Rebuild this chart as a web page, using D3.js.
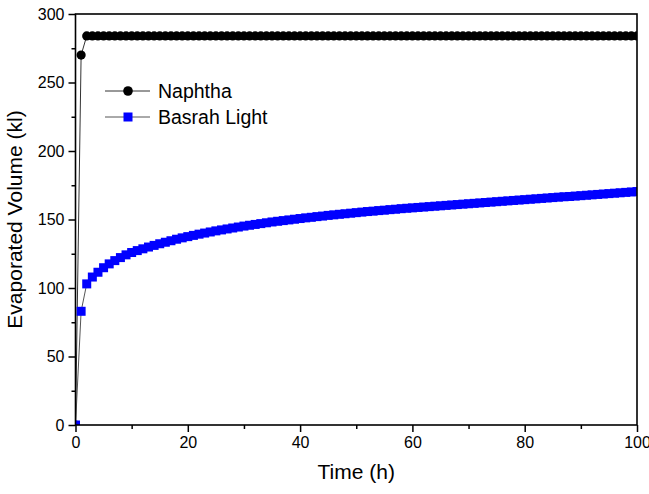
<!DOCTYPE html>
<html>
<head>
<meta charset="utf-8">
<script src="https://cdn.jsdelivr.net/npm/d3@7"></script>
<style>
  body { margin: 0; background: #fff; }
  svg { display: block; font-family: Arial, "Liberation Sans", sans-serif; }
</style>
</head>
<body>
<div id="vis-container"></div>
<script>
const width = 649;
const height = 494;
const margin = { top: 14, right: 12, bottom: 69, left: 75.5 };

// Data
const time = [0, 1, 2, 3, 4, 5, 6, 7, 8, 9, 10, 11, 12, 13, 14, 15, 16, 17, 18, 19, 20,
  21, 22, 23, 24, 25, 26, 27, 28, 29, 30, 31, 32, 33, 34, 35, 36, 37, 38, 39, 40,
  41, 42, 43, 44, 45, 46, 47, 48, 49, 50, 51, 52, 53, 54, 55, 56, 57, 58, 59, 60,
  61, 62, 63, 64, 65, 66, 67, 68, 69, 70, 71, 72, 73, 74, 75, 76, 77, 78, 79, 80,
  81, 82, 83, 84, 85, 86, 87, 88, 89, 90, 91, 92, 93, 94, 95, 96, 97, 98, 99, 100];

const naphtha = [0, 270, 284, 284, 284, 284, 284, 284, 284, 284, 284,
  284, 284, 284, 284, 284, 284, 284, 284, 284, 284,
  284, 284, 284, 284, 284, 284, 284, 284, 284, 284,
  284, 284, 284, 284, 284, 284, 284, 284, 284, 284,
  284, 284, 284, 284, 284, 284, 284, 284, 284, 284,
  284, 284, 284, 284, 284, 284, 284, 284, 284, 284,
  284, 284, 284, 284, 284, 284, 284, 284, 284, 284,
  284, 284, 284, 284, 284, 284, 284, 284, 284, 284,
  284, 284, 284, 284, 284, 284, 284, 284, 284, 284,
  284, 284, 284, 284, 284, 284, 284, 284, 284, 284];

const basrah = [0, 83, 103, 108, 111.5, 114.8, 117.6, 120, 122.2, 124.2, 125.9,
  127.3, 128.6, 129.9, 131.1, 132.3, 133.4, 134.5, 135.6, 136.6, 137.5,
  138.4, 139.3, 140.1, 140.9, 141.7, 142.4, 143.1, 143.8, 144.5, 145.2,
  145.8, 146.4, 147, 147.6, 148.2, 148.7, 149.2, 149.7, 150.2, 150.7,
  151.2, 151.6, 152.1, 152.5, 153, 153.4, 153.8, 154.2, 154.6, 155,
  155.4, 155.8, 156.1, 156.5, 156.8, 157.2, 157.5, 157.9, 158.2, 158.5,
  158.8, 159.1, 159.4, 159.7, 160, 160.3, 160.6, 160.9, 161.2, 161.5,
  161.8, 162.1, 162.4, 162.7, 163, 163.3, 163.6, 163.9, 164.2, 164.5,
  164.8, 165.1, 165.4, 165.7, 166, 166.3, 166.6, 166.8, 167.1, 167.4,
  167.7, 168, 168.3, 168.6, 168.9, 169.2, 169.5, 169.8, 170.1, 170.4];

const xTicks = [0, 20, 40, 60, 80, 100];
const xMinor = [10, 30, 50, 70, 90];
const yTicks = [0, 50, 100, 150, 200, 250, 300];
const yMinor = [25, 75, 125, 175, 225, 275];
const seriesNames = ["Naphtha", "Basrah Light"];

const svg = d3.select("#vis-container")
    .append("svg")
    .attr("width", width)
    .attr("height", height);

const x = d3.scaleLinear()
    .domain([0, 100])
    .range([margin.left, width - margin.right]);

const y = d3.scaleLinear()
    .domain([0, 300])
    .range([height - margin.bottom, margin.top]);

// clip for markers
svg.append("clipPath")
    .attr("id", "plot-clip")
    .append("rect")
    .attr("x", margin.left)
    .attr("y", margin.top)
    .attr("width", width - margin.left - margin.right)
    .attr("height", height - margin.top - margin.bottom);

const plot = svg.append("g").attr("clip-path", "url(#plot-clip)");

const line = d3.line()
    .x((d, i) => x(time[i]))
    .y((d) => y(d));

// Naphtha
plot.append("path")
    .datum(naphtha)
    .attr("d", line)
    .attr("fill", "none")
    .attr("stroke", "#333")
    .attr("stroke-width", 1);

plot.append("g")
    .selectAll("circle")
    .data(naphtha)
    .enter()
    .append("circle")
    .attr("cx", (d, i) => x(time[i]))
    .attr("cy", (d) => y(d))
    .attr("r", 4.6)
    .attr("fill", "#000");

// Basrah Light
plot.append("path")
    .datum(basrah)
    .attr("d", line)
    .attr("fill", "none")
    .attr("stroke", "#555")
    .attr("stroke-width", 1);

const sq = 9;
plot.append("g")
    .selectAll("rect")
    .data(basrah)
    .enter()
    .append("rect")
    .attr("x", (d, i) => x(time[i]) - sq / 2)
    .attr("y", (d) => y(d) - sq / 2)
    .attr("width", sq)
    .attr("height", sq)
    .attr("fill", "#0000ff");

// Axes
svg.append("g")
    .attr("transform", `translate(0,${height - margin.bottom})`)
    .call(d3.axisBottom(x).tickValues(xTicks).tickSize(7).tickPadding(5).tickFormat(d3.format("d")));

svg.append("g")
    .attr("transform", `translate(0,${height - margin.bottom})`)
    .call(d3.axisBottom(x).tickValues(xMinor).tickSize(4).tickFormat(""));

svg.append("g")
    .attr("transform", `translate(${margin.left},0)`)
    .call(d3.axisLeft(y).tickValues(yTicks).tickSize(7).tickPadding(4).tickFormat(d3.format("d")));

svg.append("g")
    .attr("transform", `translate(${margin.left},0)`)
    .call(d3.axisLeft(y).tickValues(yMinor).tickSize(4).tickFormat(""));

svg.selectAll(".tick line").attr("stroke", "#000").attr("stroke-width", 1.5);
svg.selectAll(".domain").remove();
svg.selectAll(".tick text")
    .attr("font-size", "16px")
    .attr("fill", "#000")
    .attr("font-family", "Arial, 'Liberation Sans', sans-serif");

// frame
svg.append("rect")
    .attr("x", margin.left)
    .attr("y", margin.top)
    .attr("width", width - margin.left - margin.right)
    .attr("height", height - margin.top - margin.bottom)
    .attr("fill", "none")
    .attr("stroke", "#000")
    .attr("stroke-width", 1.6);

// axis labels
svg.append("text")
    .attr("x", (margin.left + width - margin.right) / 2)
    .attr("y", 479)
    .attr("text-anchor", "middle")
    .attr("font-size", "21px")
    .attr("fill", "#000")
    .text("Time (h)");

svg.append("text")
    .attr("transform", `translate(22,${(margin.top + height - margin.bottom) / 2}) rotate(-90)`)
    .attr("text-anchor", "middle")
    .attr("font-size", "21px")
    .attr("fill", "#000")
    .text("Evaporated Volume (kl)");

// legend
const legend = svg.append("g").attr("transform", "translate(105,91)");
seriesNames.forEach((name, i) => {
    const row = legend.append("g").attr("transform", `translate(0,${i * 26})`);
    row.append("line")
        .attr("x1", 0).attr("x2", 45)
        .attr("y1", 0).attr("y2", 0)
        .attr("stroke", i === 0 ? "#333" : "#555")
        .attr("stroke-width", 1);
    if (i === 0) {
        row.append("circle").attr("cx", 23).attr("cy", 0).attr("r", 4.8).attr("fill", "#000");
    } else {
        row.append("rect").attr("x", 23 - 4.5).attr("y", -4.5).attr("width", 9).attr("height", 9).attr("fill", "#0000ff");
    }
    row.append("text")
        .attr("x", 53)
        .attr("y", 0)
        .attr("dy", "0.35em")
        .attr("font-size", "19.5px")
        .attr("fill", "#000")
        .text(name);
});
</script>
</body>
</html>
